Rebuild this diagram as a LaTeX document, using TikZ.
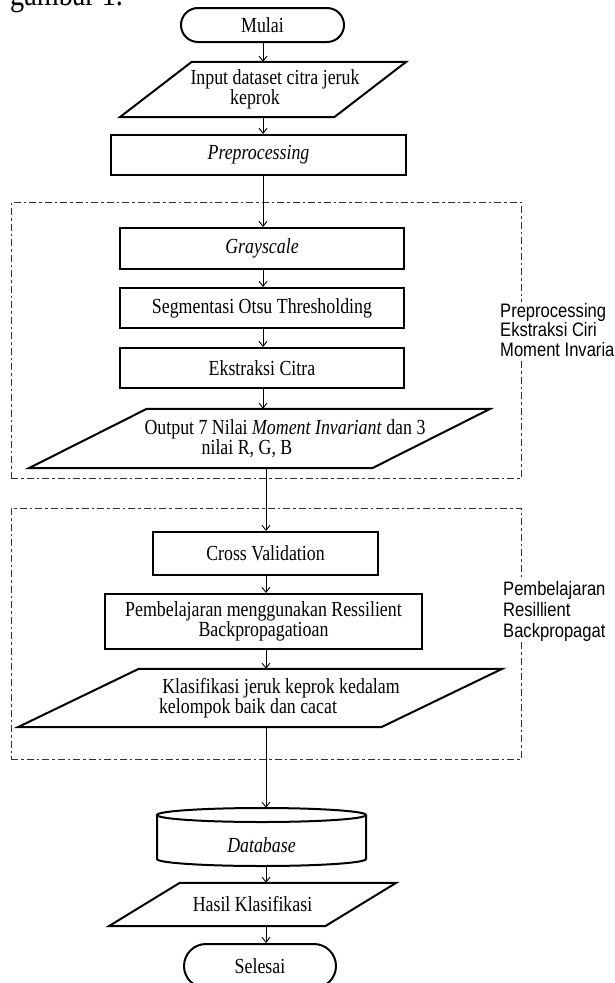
\documentclass[tikz,border=0pt]{standalone}
\usepackage{fontspec}
\setmainfont[FakeStretch=0.83]{Liberation Serif}
\newfontfamily\sidefont[FakeStretch=0.85]{Liberation Sans}
\usetikzlibrary{arrows.meta,calc}
\newcommand\drawpara[2]{\draw[boxline] ([xshift=#2pt]#1.north west) -- (#1.north east) -- ([xshift=-#2pt]#1.south east) -- (#1.south west) -- cycle;}
\tikzset{
  boxline/.style={draw=black, line width=2pt},
  txt/.style={font=\fontsize{21.5pt}{20pt}\selectfont},
  procbox/.style={boxline, rectangle, inner sep=0pt, align=center, txt},
  term/.style={boxline, rectangle, inner sep=0pt, txt},
  iobox/.style={rectangle, inner sep=0pt, align=center, txt},
  arr/.style={line width=0.9pt, -{Straight Barb[length=5pt,width=8pt]}},
  groupbox/.style={draw=black!80, line width=1pt, rectangle, inner sep=0pt,
                   dash pattern=on 7pt off 3pt on 2.5pt off 3pt},
  sidelabel/.style={fill=white, inner sep=1pt, align=left, anchor=west},
}
\begin{document}
\begin{tikzpicture}[x=1pt,y=-1pt]
\fill[white] (0,0) rectangle (615,983);
\useasboundingbox (0,0) rectangle (615,983);
\clip (0,0) rectangle (615,983);

\coordinate (colA) at (263,0);
\coordinate (colB) at (266,0);

% caption fragment (cut off at the top edge, as in the reference)
\node[anchor=base west, inner sep=0pt, font=\fontsize{34pt}{34pt}\selectfont] (cap) at (10,5) {gambar 1.};

% group boxes
\node[groupbox, minimum width=510pt, minimum height=276pt] (grp1) at (266,340) {};
\node[groupbox, minimum width=510pt, minimum height=251pt] (grp2) at (266,633.5) {};

% main flow
\node[term, rounded corners=17pt, minimum width=163pt, minimum height=34pt] (start) at (262.5,25) {Mulai};

\node[iobox, minimum width=286pt, minimum height=55pt] (input) at (263,89.5)
  {\hspace*{24pt}Input dataset citra jeruk\\\hspace*{-16pt}keprok};
\drawpara{input}{72}

\node[procbox, minimum width=295pt, minimum height=40pt] (prep) at (258.5,155) {\textit{Preprocessing}};

\node[procbox, minimum width=284pt, minimum height=41pt] (gray) at (262,248.5) {\textit{Grayscale}};
\node[procbox, minimum width=284pt, minimum height=40pt] (seg) at (262,308) {Segmentasi Otsu Thresholding};
\node[procbox, minimum width=284pt, minimum height=40pt] (ext) at (262,368) {Ekstraksi Citra};

\node[iobox, minimum width=461pt, minimum height=59pt] (out) at (259.5,438.5)
  {\hspace*{51pt}Output 7 Nilai \textit{Moment Invariant} dan 3\\\hspace*{-25pt}nilai R, G, B};
\drawpara{out}{118}

\node[procbox, minimum width=225pt, minimum height=43pt] (cv) at (265.5,553.5) {Cross Validation};
\node[procbox, minimum width=317pt, minimum height=55pt] (learn) at (263.5,621.5)
  {Pembelajaran menggunakan Ressilient\\Backpropagatioan};

\node[iobox, minimum width=484pt, minimum height=58pt] (cls) at (260,698)
  {\hspace*{42pt}Klasifikasi jeruk keprok kedalam\\\hspace*{-24pt}kelompok baik dan cacat};
\drawpara{cls}{121}

% database cylinder
\node[rectangle, inner sep=0pt, minimum width=209pt, minimum height=58pt] (db) at (261.5,837) {};
\draw[boxline, fill=white] (157,815) -- (157,859) arc[start angle=180, end angle=360, x radius=104.5pt, y radius=7pt] -- (366,815);
\draw[boxline] (261.5,815) ellipse [x radius=104.5pt, y radius=7pt];
\node[txt, inner sep=0pt] (dbtext) at (261.5,845) {\textit{Database}};

\node[iobox, minimum width=287pt, minimum height=43pt] (res) at (252.5,904.5) {Hasil Klasifikasi};
\drawpara{res}{71}

\node[term, rounded corners=22pt, minimum width=152pt, minimum height=44pt] (end) at (260,966) {Selesai};

% side labels (cut off at the right edge, as in the reference)
\node[sidelabel, font=\sidefont\fontsize{19.5pt}{19.5pt}\selectfont] (lab1) at (499,330)
  {Preprocessing\\Ekstraksi Ciri\\Moment Invariant};
\begin{scope}
\clip (0,0) rectangle (604,983);
\node[sidelabel, font=\sidefont\fontsize{19.5pt}{21pt}\selectfont] (lab2) at (502,611)
  {Pembelajaran\\Resillient\\Backpropagation};
\end{scope}

% connectors
\draw[arr] (start.south -| colA) -- (input.north -| colA);
\draw[arr] (input.south -| colA) -- (prep.north -| colA);
\draw[arr] (prep.south -| colA) -- (gray.north -| colA);
\draw[arr] (gray.south -| colA) -- (seg.north -| colA);
\draw[arr] (seg.south -| colA) -- (ext.north -| colA);
\draw[arr] (ext.south -| colA) -- (out.north -| colA);
\draw[arr] (out.south -| colB) -- (cv.north -| colB);
\draw[arr] (cv.south -| colB) -- (learn.north -| colB);
\draw[arr] (learn.south -| colB) -- (cls.north -| colB);
\draw[arr] (cls.south -| colB) -- (db.north -| colB);
\draw[arr] (db.south -| colB) -- (res.north -| colB);
\draw[arr] (res.south -| colB) -- (end.north -| colB);
\end{tikzpicture}
\end{document}
